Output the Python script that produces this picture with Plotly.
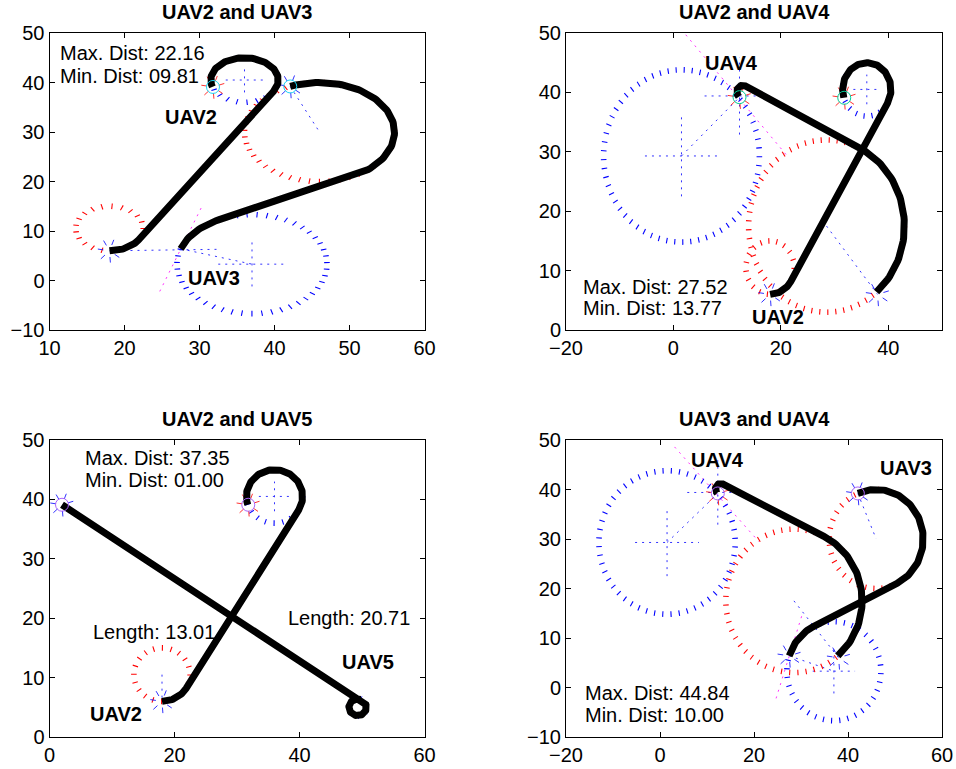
import numpy as np
import plotly.graph_objects as go

W, H = 956, 769
FONT = "Liberation Sans, Arial, Helvetica, sans-serif"
BLUE, RED, MAG = "#0000ff", "#ff0000", "#ff00ff"

# ---------------- shared Dubins-type paths ----------------
# each arc: (cx, cy, r, start_deg, end_deg); consecutive arcs are joined by straight segments
uav2_arcs = [(18.0, 10.5, 4.5, -90.0, -31.0), (36.0, 40.5, 4.5, -31.0, 198.0)]
uav3_arcs = [(37.0, 3.3, 10.0, 162.0, 116.5), (46.0, 30.0, 10.0, -63.5, 113.0)]
uav4_arcs = [(28.5, 17.5, 14.5, -50.0, 64.0), (12.9, 40.1, 1.1, 64.0, 229.0)]
uav5_arcs = [(2.0, 39.1, 0.0, 0.0, 0.0), (49.3, 5.0, 1.4, 55.0, -290.0)]

# ---------------- panel settings ----------------
titles = ["UAV2 and UAV3", "UAV2 and UAV4", "UAV2 and UAV5", "UAV3 and UAV4"]
x_ranges = [[10, 60], [-20, 50], [0, 60], [-20, 60]]
y_ranges = [[-10, 50], [0, 50], [0, 50], [-10, 50]]
x_dticks = [10, 20, 20, 20]
x_domains = [[49.5 / W, 424.5 / W], [566 / W, 942 / W], [49.5 / W, 424.5 / W], [566 / W, 942 / W]]
y_domains = [[1 - 330 / H, 1 - 33 / H], [1 - 330 / H, 1 - 33 / H],
             [1 - 737 / H, 1 - 440 / H], [1 - 737 / H, 1 - 440 / H]]

# panel 1: UAV2 and UAV3
p1_paths = [uav2_arcs, uav3_arcs]
p1_circles = [(18, 10.5, 4.5, RED), (36, 40.5, 4.5, BLUE), (37, 3.3, 10, BLUE), (46, 30, 10, RED)]
p1_crosses = [(36, 40.5, 2.5), (37, 3.3, 4.5)]
p1_guides = [(42.1, 39.2, 46, 30, BLUE), (18, 6, 32.5, 6.3, BLUE),
             (24.7, -2.2, 30.3, 14.9, MAG), (27.5, 6.4, 37, 3.3, BLUE)]
p1_goals = [(31.8, 39.1), (42.1, 39.2)]
p1_bursts = [(18, 6, BLUE), (31.8, 39.1, RED), (42.1, 39.2, BLUE)]
p1_texts = [(11.1, 45.9, "Max. Dist: 22.16", False), (11.1, 41.3, "Min. Dist: 09.81", False),
            (28.9, 33.1, "UAV2", True), (31.9, 0.5, "UAV3", True)]

# panel 2: UAV2 and UAV4
p2_paths = [uav2_arcs, uav4_arcs]
p2_circles = [(18, 10.5, 4.5, RED), (36, 40.5, 4.5, BLUE), (28.5, 17.5, 14.5, RED), (1.5, 29.3, 14.5, BLUE)]
p2_crosses = [(36, 40.5, 2.5), (1.5, 29.3, 6.8), (12.3, 39.4, 6.5)]
p2_guides = [(1.5, 29.3, 12.3, 39.2, BLUE), (28.5, 17.5, 38, 6, BLUE), (2.3, 49.7, 21, 29.5, MAG)]
p2_goals = [(31.8, 39.1), (12.3, 39.2)]
p2_bursts = [(18, 6, BLUE), (38, 6, BLUE), (31.8, 39.1, RED), (12.3, 39.2, RED)]
p2_texts = [(-17.2, 7.2, "Max. Dist: 27.52", False), (-17.2, 3.7, "Min. Dist: 13.77", False),
            (10.8, 44.9, "UAV4", True), (19.4, 2.2, "UAV2", True)]

# panel 3: UAV2 and UAV5
p3_paths = [uav2_arcs, uav5_arcs]
p3_circles = [(18, 10.5, 4.5, RED), (36, 40.5, 4.5, BLUE)]
p3_crosses = [(36, 40.5, 2.5)]
p3_guides = [(18, 10.5, 18, 6, BLUE)]
p3_goals = [(31.8, 39.1), (2.0, 39.1)]
p3_bursts = [(18, 6, BLUE), (49.3, 5.0, BLUE), (31.8, 39.1, RED), (2.0, 39.1, BLUE)]
p3_texts = [(5.4, 47.0, "Max. Dist: 37.35", False), (5.4, 43.3, "Min. Dist: 01.00", False),
            (6.6, 17.7, "Length: 13.01", False), (37.8, 20.0, "Length: 20.71", False),
            (50.9, 12.6, "UAV5", True), (10.6, 3.9, "UAV2", True)]

# panel 4: UAV3 and UAV4
p4_paths = [uav3_arcs, uav4_arcs]
p4_circles = [(1.5, 29.3, 14.5, BLUE), (28.5, 17.5, 14.5, RED), (46, 30, 10, RED), (37, 3.3, 10, BLUE)]
p4_crosses = [(1.5, 29.3, 6.8), (37, 3.3, 4.5), (12.3, 39.4, 6.5)]
p4_guides = [(42.1, 39.2, 46, 30, BLUE), (28.5, 17.5, 38, 6, BLUE), (1.5, 29.3, 12.3, 39.2, BLUE),
             (3.1, 48.6, 21, 29.5, MAG), (24.7, -2.2, 30.3, 14.9, MAG), (27.5, 6.4, 37, 3.3, BLUE)]
p4_goals = [(12.3, 39.2), (42.1, 39.2)]
p4_bursts = [(27.5, 6.4, BLUE), (38, 6, BLUE), (12.3, 39.2, RED), (42.1, 39.2, BLUE)]
p4_texts = [(-16.4, -1.1, "Max. Dist: 44.84", False), (-16.4, -5.5, "Min. Dist: 10.00", False),
            (12.2, 46.0, "UAV4", True), (52.3, 44.3, "UAV3", True)]

panels = [
    (p1_paths, p1_circles, p1_crosses, p1_guides, p1_goals, p1_bursts, p1_texts),
    (p2_paths, p2_circles, p2_crosses, p2_guides, p2_goals, p2_bursts, p2_texts),
    (p3_paths, p3_circles, p3_crosses, p3_guides, p3_goals, p3_bursts, p3_texts),
    (p4_paths, p4_circles, p4_crosses, p4_guides, p4_goals, p4_bursts, p4_texts),
]


def path_xy(arcs):
    xs, ys = [], []
    for cx, cy, r, a0, a1 in arcs:
        n = max(2, int(abs(a1 - a0) / 2) + 1)
        t = np.radians(np.linspace(a0, a1, n))
        xs.extend(cx + r * np.cos(t))
        ys.extend(cy + r * np.sin(t))
    return xs, ys


def ring_ticks(cx, cy, rx, ry, sx, sy, spacing):
    per = 2 * np.pi * np.sqrt(((rx * sx) ** 2 + (ry * sy) ** 2) / 2)
    n = max(6, int(round(per / spacing)))
    t = np.linspace(0, 2 * np.pi, n, endpoint=False) + 0.3
    x = cx + rx * np.cos(t)
    y = cy + ry * np.sin(t)
    scr = np.degrees(np.arctan2(sy * ry * np.sin(t), sx * rx * np.cos(t)))
    return x, y, 90 - scr


fig = go.Figure()
layout = dict(width=W, height=H, margin=dict(l=0, r=0, t=0, b=0),
              paper_bgcolor="white", plot_bgcolor="white", showlegend=False,
              annotations=[])

for k, (paths, circles, crosses, guides, goals, bursts, texts) in enumerate(panels):
    i = k + 1
    xa = "x" if i == 1 else f"x{i}"
    ya = "y" if i == 1 else f"y{i}"
    sx = (x_domains[k][1] - x_domains[k][0]) * W / (x_ranges[k][1] - x_ranges[k][0])
    sy = (y_domains[k][1] - y_domains[k][0]) * H / (y_ranges[k][1] - y_ranges[k][0])

    # dotted guide lines
    for x0, y0, x1, y1, c in guides:
        fig.add_trace(go.Scatter(x=[x0, x1], y=[y0, y1], mode="lines", xaxis=xa, yaxis=ya,
                                 line=dict(color=c, width=1, dash="2px,5px"), opacity=0.8,
                                 hoverinfo="skip"))
    for cx, cy, arm in crosses:
        fig.add_trace(go.Scatter(x=[cx - arm, cx + arm, None, cx, cx], y=[cy, cy, None, cy - arm, cy + arm],
                                 mode="lines", xaxis=xa, yaxis=ya, opacity=0.8,
                                 line=dict(color=BLUE, width=1, dash="2px,5px"), hoverinfo="skip"))
    # dotted turning circles (radial dashes)
    for cx, cy, r, c in circles:
        x, y, ang = ring_ticks(cx, cy, r, r, sx, sy, 8.5)
        fig.add_trace(go.Scatter(x=x, y=y, mode="markers", xaxis=xa, yaxis=ya, hoverinfo="skip",
                                 marker=dict(symbol="line-ns", size=4, angle=ang,
                                             line=dict(color=c, width=1.1))))
    for bx, by, c in bursts:
        x, y, ang = ring_ticks(bx, by, 9 / sx, 9 / sy, sx, sy, 8)
        fig.add_trace(go.Scatter(x=x, y=y, mode="markers", xaxis=xa, yaxis=ya, hoverinfo="skip",
                                 opacity=0.8,
                                 marker=dict(symbol="line-ns", size=4, angle=ang,
                                             line=dict(color=c, width=1))))
    # thick paths
    for arcs in paths:
        px, py = path_xy(arcs)
        fig.add_trace(go.Scatter(x=px, y=py, mode="lines", xaxis=xa, yaxis=ya, hoverinfo="skip",
                                 line=dict(color="black", width=7)))
    # goal markers
    fig.add_trace(go.Scatter(x=[g[0] for g in goals], y=[g[1] for g in goals], mode="markers",
                             xaxis=xa, yaxis=ya, hoverinfo="skip",
                             marker=dict(symbol="circle-open", size=13, line=dict(color=BLUE, width=1))))

    ax = dict(showline=True, linecolor="black", linewidth=1, mirror="ticks", ticks="inside",
              ticklen=5, tickwidth=1, tickcolor="black", showgrid=False, zeroline=False,
              automargin=False,
              tickfont=dict(family=FONT, size=20, color="black"), fixedrange=True)
    layout["xaxis" if i == 1 else f"xaxis{i}"] = dict(ax, domain=x_domains[k], range=x_ranges[k],
                                                      dtick=x_dticks[k], tick0=0, anchor=ya)
    layout["yaxis" if i == 1 else f"yaxis{i}"] = dict(ax, domain=y_domains[k], range=y_ranges[k],
                                                      dtick=10, tick0=0, anchor=xa)

    layout["annotations"].append(dict(
        text=f"<b>{titles[k]}</b>", xref="paper", yref="paper",
        x=(x_domains[k][0] + x_domains[k][1]) / 2, y=y_domains[k][1] + 8 / H,
        xanchor="center", yanchor="bottom", showarrow=False,
        font=dict(family=FONT, size=20, color="black")))
    for tx, ty, txt, bold in texts:
        layout["annotations"].append(dict(
            text=f"<b>{txt}</b>" if bold else txt, xref=xa, yref=ya, x=tx, y=ty,
            xanchor="center" if bold else "left", yanchor="middle", showarrow=False,
            font=dict(family=FONT, size=20, color="black")))

fig.update_layout(**layout)
fig.write_html("out.html", config={"displayModeBar": False},
               post_script="document.body.style.margin='0';document.body.style.overflow='hidden';")
